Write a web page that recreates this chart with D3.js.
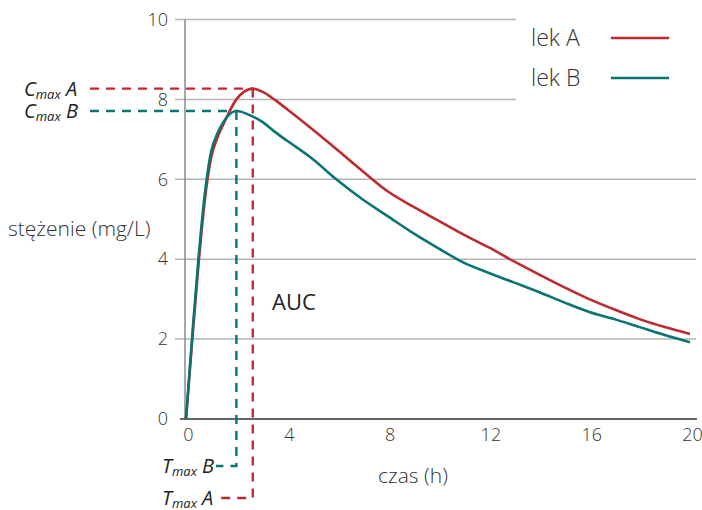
<!DOCTYPE html>
<html lang="pl">

<head>
  <meta charset="utf-8">
  <title>Stężenie leku w czasie</title>
  <style>
    body {
      margin: 0;
      background: #fff;
    }

    svg text {
      font-family: "Open Sans", "Noto Sans", sans-serif;
      font-weight: 300;
      fill: #333;
    }

    .axis text {
      font-size: 18px;
    }

    .axis path,
    .axis line {
      display: none;
    }

    .grid line {
      stroke: #b4b4b4;
      stroke-width: 1.5;
    }

    .curve {
      fill: none;
      stroke-width: 2.6;
    }

    .dash {
      fill: none;
      stroke-width: 2.4;
      stroke-dasharray: 9, 7;
    }

    .lbl {
      font-style: italic;
      font-weight: 400 !important;
      fill: #222 !important;
    }
  </style>
</head>

<body>
  <div id="chart"></div>
  <script src="https://d3js.org/d3.v7.min.js"></script>
  <script>

    // data
    let hours = [0, 0.25, 0.5, 0.75, 1, 1.25, 1.5, 2, 2.65, 3, 3.5, 4, 5, 6, 7, 8, 9, 10, 11, 12, 13, 14, 15, 16, 17, 18, 19, 20];
    let lekA = [0, 2.0, 3.9, 5.5, 6.55, 7.05, 7.4, 8.0, 8.27, 8.2, 8.0, 7.76, 7.26, 6.74, 6.21, 5.7, 5.32, 4.97, 4.62, 4.3, 3.95, 3.62, 3.3, 3.0, 2.74, 2.5, 2.3, 2.13];
    let lekB = [0, 2.1, 4.05, 5.65, 6.7, 7.15, 7.45, 7.71, 7.57, 7.45, 7.2, 6.97, 6.52, 5.98, 5.5, 5.08, 4.66, 4.28, 3.92, 3.66, 3.42, 3.18, 2.92, 2.68, 2.5, 2.3, 2.1, 1.92];
    let xTicks = [0, 4, 8, 12, 16, 20];
    let yTicks = [0, 2, 4, 6, 8, 10];
    let names = ["lek A", "lek B"];
    let tmax = [2.65, 2.0];
    let cmax = [8.27, 7.71];

    let colors = ["#be2a2f", "#0a7471"];
    let w = 702;
    let h = 510;

    let svg = d3.select("#chart")
      .append("svg")
      .attr("width", w)
      .attr("height", h);

    let x = d3.scaleLinear().domain([0, 20]).range([186, 690]);
    let y = d3.scaleLinear().domain([0, 10]).range([419, 19.5]);

    // gridlines (the two top ones stop before the legend)
    svg.append("g")
      .attr("class", "grid")
      .selectAll("line")
      .data(yTicks.filter((d) => d > 0))
      .enter()
      .append("line")
      .attr("x1", 175)
      .attr("x2", (d) => d >= 8 ? 516 : 696)
      .attr("y1", (d) => y(d))
      .attr("y2", (d) => y(d));

    // axis lines
    svg.append("line")
      .attr("x1", 185).attr("x2", 185)
      .attr("y1", y(10)).attr("y2", y(0))
      .attr("stroke", "#8a8a8a")
      .attr("stroke-width", 1.5);

    svg.append("line")
      .attr("x1", 180).attr("x2", 697)
      .attr("y1", y(0)).attr("y2", y(0))
      .attr("stroke", "#333")
      .attr("stroke-width", 1.5);

    svg.append("g")
      .attr("class", "axis")
      .attr("transform", "translate(185,0)")
      .call(d3.axisLeft(y).tickValues(yTicks).tickSize(0).tickPadding(17));

    svg.append("g")
      .attr("class", "axis")
      .attr("transform", "translate(2," + y(0) + ")")
      .call(d3.axisBottom(x).tickValues(xTicks).tickSize(0).tickPadding(9));

    // axis titles
    svg.append("text")
      .attr("x", 8)
      .attr("y", 236)
      .style("font-size", "21px")
      .text("stężenie (mg/L)");

    svg.append("text")
      .attr("x", 378)
      .attr("y", 483)
      .style("font-size", "21px")
      .text("czas (h)");

    svg.append("text")
      .attr("x", 272)
      .attr("y", 310)
      .style("font-size", "22px")
      .style("font-weight", 400)
      .style("fill", "#222")
      .text("AUC");

    // curves
    let line = d3.line()
      .x((d) => x(d[0]))
      .y((d) => y(d[1]))
      .curve(d3.curveMonotoneX);

    [lekA, lekB].forEach((s, i) => {
      svg.append("path")
        .datum(hours.map((t, j) => [t, s[j]]))
        .attr("class", "curve")
        .attr("stroke", colors[i])
        .attr("d", line);
    });

    // Cmax / Tmax guides
    let tY = [498, 466];
    [0, 1].forEach((i) => {
      svg.append("path")
        .attr("class", "dash")
        .attr("stroke", colors[i])
        .attr("d", "M90," + y(cmax[i]) + "H" + x(tmax[i]));
      svg.append("path")
        .attr("class", "dash")
        .attr("stroke", colors[i])
        .attr("d", "M" + x(tmax[i]) + "," + y(cmax[i]) + "V" + tY[i] + "H216");
    });

    let sub = (sel, big, letter) => {
      sel.append("tspan").text(big);
      sel.append("tspan").style("font-size", "13px").attr("dy", 3).text("max");
      sel.append("tspan").attr("dy", -3).text(" " + letter);
    };

    ["A", "B"].forEach((l, i) => {
      let c = svg.append("text")
        .attr("class", "lbl")
        .attr("x", 24)
        .attr("y", y(cmax[i]) + 7)
        .style("font-size", "20px");
      sub(c, "C", l);

      let t = svg.append("text")
        .attr("class", "lbl")
        .attr("x", 162)
        .attr("y", tY[i] + 7)
        .style("font-size", "20px");
      sub(t, "T", l);
    });

    // legend
    let leg = svg.append("g");
    names.forEach((n, i) => {
      let ly = 38 + i * 40;
      leg.append("text")
        .attr("x", 531)
        .attr("y", ly + 8)
        .style("font-size", "23px")
        .text(n);
      leg.append("line")
        .attr("x1", 611).attr("x2", 669)
        .attr("y1", ly).attr("y2", ly)
        .attr("stroke", colors[i])
        .attr("stroke-width", 2.6);
    });

  </script>
</body>

</html>
